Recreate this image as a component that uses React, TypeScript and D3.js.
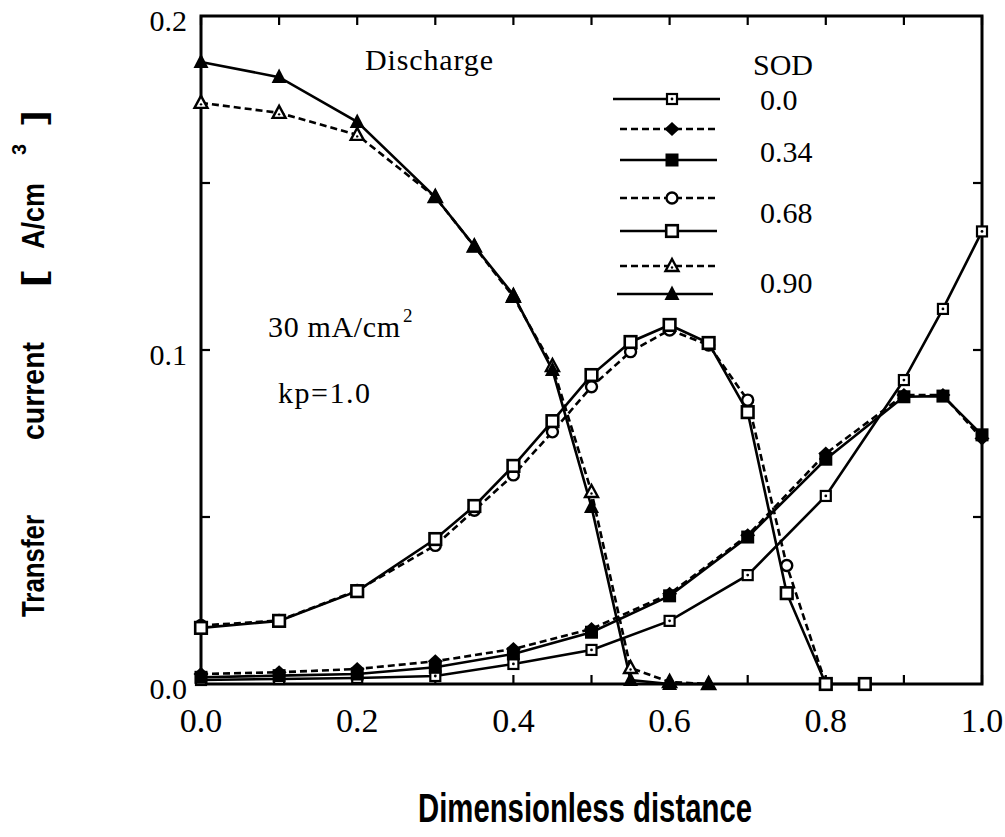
import React from 'react';
import * as d3 from 'd3';

// x positions (dimensionless distance)
const xsFull = [0, 0.1, 0.2, 0.3, 0.4, 0.5, 0.6, 0.7, 0.8, 0.9, 0.95, 1.0];
const xsMid = [0, 0.1, 0.2, 0.3, 0.35, 0.4, 0.45, 0.5, 0.55, 0.6, 0.65, 0.7, 0.75, 0.8, 0.85];
const xsHigh = [0, 0.1, 0.2, 0.3, 0.35, 0.4, 0.45, 0.5, 0.55, 0.6, 0.65];

// transfer current [A/cm3]
const sod00 = [0.0012, 0.0015, 0.0018, 0.0024, 0.006, 0.0102, 0.0189, 0.0326, 0.0563, 0.091, 0.1123, 0.1355];
const sod034Dashed = [0.003, 0.0035, 0.0045, 0.0068, 0.0105, 0.0165, 0.027, 0.0445, 0.069, 0.0865, 0.0865, 0.0735];
const sod034Solid = [0.002, 0.0025, 0.003, 0.005, 0.009, 0.0155, 0.0264, 0.044, 0.0673, 0.086, 0.0862, 0.0746];
const sod068Dashed = [0.0175, 0.019, 0.028, 0.0415, 0.052, 0.0626, 0.0755, 0.089, 0.0995, 0.106, 0.1015, 0.085, 0.0355, 0];
const sod068Solid = [0.0168, 0.0189, 0.0278, 0.0434, 0.0533, 0.0653, 0.0787, 0.0925, 0.1024, 0.1075, 0.1021, 0.0814, 0.0272, 0, 0];
const sod090Dashed = [0.174, 0.171, 0.1644, 0.1458, 0.131, 0.1159, 0.0952, 0.0575, 0.0048, 0.0006, 0];
const sod090Solid = [0.1862, 0.1817, 0.1683, 0.1458, 0.1311, 0.1165, 0.094, 0.053, 0.0012, 0, 0];

const xTicks = [0, 0.1, 0.2, 0.3, 0.4, 0.5, 0.6, 0.7, 0.8, 0.9, 1.0];
const xTickLabels = ['0.0', '0.2', '0.4', '0.6', '0.8', '1.0'];
const yTicks = [0.05, 0.1, 0.15];
const yTickLabels = ['0.0', '0.1', '0.2'];
const sodLabels = ['0.0', '0.34', '0.68', '0.90'];

type Shape = 'dotSquare' | 'diamond' | 'filledSquare' | 'circle' | 'openSquare' | 'openTriangle' | 'filledTriangle';

const series: { xs: number[]; ys: number[]; dashed: boolean; shape: Shape }[] = [
  { xs: xsFull, ys: sod00, dashed: false, shape: 'dotSquare' },
  { xs: xsFull, ys: sod034Dashed, dashed: true, shape: 'diamond' },
  { xs: xsFull, ys: sod034Solid, dashed: false, shape: 'filledSquare' },
  { xs: xsMid.slice(0, sod068Dashed.length), ys: sod068Dashed, dashed: true, shape: 'circle' },
  { xs: xsMid, ys: sod068Solid, dashed: false, shape: 'openSquare' },
  { xs: xsHigh, ys: sod090Dashed, dashed: true, shape: 'openTriangle' },
  { xs: xsHigh, ys: sod090Solid, dashed: false, shape: 'filledTriangle' },
];

const W = 1005;
const H = 837;
const left = 201, right = 982, top = 16, bottom = 684;
const serif = '"Liberation Serif", "Times New Roman", serif';
const sans = '"Liberation Sans", Arial, sans-serif';

const x = d3.scaleLinear().domain([0, 1]).range([left, right]);
const y = d3.scaleLinear().domain([0, 0.2]).range([bottom, top]);

const Marker = ({ shape, cx, cy }: { shape: Shape; cx: number; cy: number }) => {
  switch (shape) {
    case 'dotSquare':
      return (
        <g>
          <rect x={cx - 5} y={cy - 5} width={10} height={10} fill="#fff" stroke="#000" strokeWidth={2.2} />
          <circle cx={cx} cy={cy} r={1.4} fill="#000" />
        </g>
      );
    case 'diamond':
      return <path d={`M${cx},${cy - 7}L${cx + 7.5},${cy}L${cx},${cy + 7}L${cx - 7.5},${cy}Z`} fill="#000" />;
    case 'filledSquare':
      return <rect x={cx - 6.5} y={cy - 6.5} width={13} height={13} fill="#000" />;
    case 'circle':
      return <circle cx={cx} cy={cy} r={5.5} fill="#fff" stroke="#000" strokeWidth={2.4} />;
    case 'openSquare':
      return <rect x={cx - 5.8} y={cy - 5.8} width={11.6} height={11.6} fill="#fff" stroke="#000" strokeWidth={2.6} />;
    case 'openTriangle':
      return (
        <g>
          <path d={`M${cx},${cy - 7}L${cx + 6.5},${cy + 5}L${cx - 6.5},${cy + 5}Z`} fill="#fff" stroke="#000" strokeWidth={2.4} />
          <circle cx={cx} cy={cy + 1.5} r={1.2} fill="#000" />
        </g>
      );
    case 'filledTriangle':
      return <path d={`M${cx},${cy - 8.5}L${cx + 7.5},${cy + 6}L${cx - 7.5},${cy + 6}Z`} fill="#000" />;
  }
};

// legend layout
const legendRows = [
  { y: 99, x0: 613, x1: 720 },
  { y: 129, x0: 620, x1: 717 },
  { y: 160, x0: 620, x1: 717 },
  { y: 198, x0: 620, x1: 717 },
  { y: 231, x0: 620, x1: 717 },
  { y: 266, x0: 620, x1: 717 },
  { y: 294, x0: 617, x1: 713 },
];
const legendLabelY = [110, 162, 223, 293];

// y title pieces, placed along the rotated baseline
const yTitle = [
  { t: 'Transfer', from: 617, len: 102, size: 32, bx: 44 },
  { t: 'current', from: 440, len: 98, size: 32, bx: 44 },
  { t: '[', from: 287, len: 16, size: 32, bx: 44 },
  { t: 'A/cm', from: 249, len: 66, size: 32, bx: 44 },
  { t: '3', from: 155, len: 11, size: 20, bx: 26 },
  { t: ']', from: 125, len: 14, size: 32, bx: 44 },
];

export default function App() {
  const line = d3.line<[number, number]>().x((d) => x(d[0])).y((d) => y(d[1]));
  return (
    <svg width={W} height={H} style={{ position: 'absolute', left: 0, top: 0, background: '#fff' }}>
      <rect width={W} height={H} fill="#fff" />
      {/* frame */}
      <rect x={left} y={top} width={right - left} height={bottom - top} fill="none" stroke="#000" strokeWidth={3} />
      {xTicks.map((t) => (
        <g key={`xt${t}`}>
          <line x1={x(t)} x2={x(t)} y1={bottom} y2={bottom - 9} stroke="#000" strokeWidth={2.2} />
          <line x1={x(t)} x2={x(t)} y1={top} y2={top + 9} stroke="#000" strokeWidth={2.2} />
        </g>
      ))}
      {yTicks.map((t) => (
        <g key={`yt${t}`}>
          <line x1={left} x2={left + 9} y1={y(t)} y2={y(t)} stroke="#000" strokeWidth={2.2} />
          <line x1={right} x2={right - 9} y1={y(t)} y2={y(t)} stroke="#000" strokeWidth={2.2} />
        </g>
      ))}
      {xTickLabels.map((l) => (
        <text key={`xl${l}`} x={x(+l)} y={732} textAnchor="middle" fontFamily={serif} fontSize={34}>
          {l}
        </text>
      ))}
      {yTickLabels.map((l) => (
        <text key={`yl${l}`} x={187} y={y(+l) + 15} textAnchor="end" fontFamily={serif} fontSize={30}>
          {l}
        </text>
      ))}

      {/* series lines */}
      {series.map((s, i) => (
        <path
          key={`l${i}`}
          d={line(s.xs.map((v, j) => [v, s.ys[j]]))!}
          fill="none"
          stroke="#000"
          strokeWidth={2.6}
          strokeDasharray={s.dashed ? '7,4' : undefined}
        />
      ))}
      {series.map((s, i) => (
        <g key={`m${i}`}>
          {s.xs.map((v, j) => (
            <Marker key={j} shape={s.shape} cx={x(v)} cy={y(s.ys[j])} />
          ))}
        </g>
      ))}

      {/* legend */}
      <text x={753} y={75} fontFamily={serif} fontSize={30}>SOD</text>
      {series.map((s, i) => {
        const r = legendRows[i];
        return (
          <g key={`lg${i}`}>
            <line x1={r.x0} x2={r.x1} y1={r.y} y2={r.y} stroke="#000" strokeWidth={2.6} strokeDasharray={s.dashed ? '7,4' : undefined} />
            <Marker shape={s.shape} cx={672} cy={r.y} />
          </g>
        );
      })}
      {sodLabels.map((l, i) => (
        <text key={`sl${l}`} x={760} y={legendLabelY[i]} fontFamily={serif} fontSize={30}>
          {l}
        </text>
      ))}

      {/* annotations */}
      <text x={365} y={70} fontFamily={serif} fontSize={30} textLength={128}>Discharge</text>
      <text x={268} y={337} fontFamily={serif} fontSize={30} textLength={132}>30 mA/cm</text>
      <text x={403} y={322} fontFamily={serif} fontSize={19}>2</text>
      <text x={278} y={403} fontFamily={serif} fontSize={30} textLength={92}>kp=1.0</text>

      {/* axis titles */}
      <text x={418} y={822} fontFamily={sans} fontWeight="bold" fontSize={40} textLength={334} lengthAdjust="spacingAndGlyphs">
        Dimensionless distance
      </text>
      {yTitle.map((p) => (
        <text
          key={p.t}
          transform={`translate(${p.bx},${p.from}) rotate(-90)`}
          fontFamily={sans}
          fontWeight="bold"
          fontSize={p.size}
          textLength={p.len}
          lengthAdjust="spacingAndGlyphs"
        >
          {p.t}
        </text>
      ))}
    </svg>
  );
}
